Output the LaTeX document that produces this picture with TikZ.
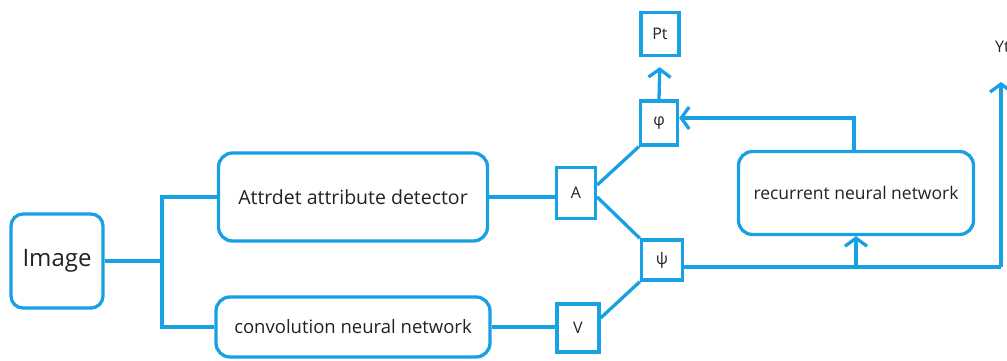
\documentclass[tikz,border=0pt]{standalone}
\usepackage{fontspec}
\setmainfont{Open Sans}
\usetikzlibrary{arrows.meta}
\definecolor{lineblue}{RGB}{24,160,228}
\definecolor{txt}{RGB}{34,34,34}
\tikzset{
  conn/.style={draw=lineblue, line width=3.3pt},
  arr/.style={conn, -{Straight Barb[length=8pt,width=22pt,line width=3.3pt]}},
  rbox/.style={draw=lineblue, line width=3.3pt, rounded corners=14pt, align=center, text=txt, inner sep=0pt},
  sbox/.style={draw=lineblue, line width=3.3pt, align=center, text=txt, inner sep=0pt, font=\fontsize{16}{18}\selectfont},
}
\begin{document}
\begin{tikzpicture}[x=1pt,y=-1pt]
\useasboundingbox (0,0) rectangle (1007,361);
\clip (0,0) rectangle (1007,361);
\node[rbox, minimum width=92pt, minimum height=94pt, rounded corners=12pt, font=\fontsize{24}{26}\selectfont] (img) at (57,261) {Image};
\node[rbox, minimum width=269pt, minimum height=88pt, font=\fontsize{19.5}{22}\selectfont] (att) at (353,197) {\raisebox{-4pt}{Attrdet attribute detector}};
\node[rbox, minimum width=274pt, minimum height=60pt, font=\fontsize{18.5}{21}\selectfont] (cnn) at (353,327) {convolution neural network};
\node[sbox, minimum width=39pt, minimum height=51pt] (A) at (576,193) {A};
\node[sbox, minimum width=42pt, minimum height=48pt] (V) at (578,328) {V};
\node[sbox, minimum width=41pt, minimum height=40pt] (psi) at (662,260) {ψ};
\node[sbox, minimum width=37pt, minimum height=44pt] (phi) at (659,123) {φ};
\node[sbox, minimum width=38pt, minimum height=43pt] (Pt) at (660,34) {Pt};
\node[rbox, minimum width=235pt, minimum height=83pt, font=\fontsize{17.5}{20}\selectfont] (rnn) at (856,193) {recurrent neural network};
\node[anchor=west, inner sep=0pt, text=txt, font=\fontsize{16}{18}\selectfont] (yt) at (995,47) {Yt};
% branch from image
\coordinate (br) at (162,261);
\draw[conn] (img.east) -- (br);
\draw[conn] (att.west) -| (br) |- (cnn.west);
% detectors to A and V
\draw[conn] (att.east) -- (att.east -| A.west);
\draw[conn] (cnn.east) -- (cnn.east -| V.west);
% A, V to phi / psi
\draw[conn] ([yshift=8pt]A.east) -- (phi.south west);
\draw[conn] ([yshift=-4pt]A.east) -- (psi.north west);
\draw[conn] ([yshift=10pt]V.east) -- (psi.south west);
% phi to Pt
\draw[arr, shorten >=10pt] (phi.north) -- (Pt.south);
% rnn to phi
\coordinate (rt) at (854,118);
\draw[arr] (rt |- rnn.north) -- (rt) -- (rt -| phi.east);
% psi to rnn and Yt
\coordinate (pr) at (1001,267);
\draw[conn] ([yshift=-7pt]psi.east) -- (pr);
\draw[arr] (856,267) -- (rnn.south);
\draw[arr, shorten >=29pt] (pr) -- (pr |- yt.south);
\end{tikzpicture}
\end{document}
